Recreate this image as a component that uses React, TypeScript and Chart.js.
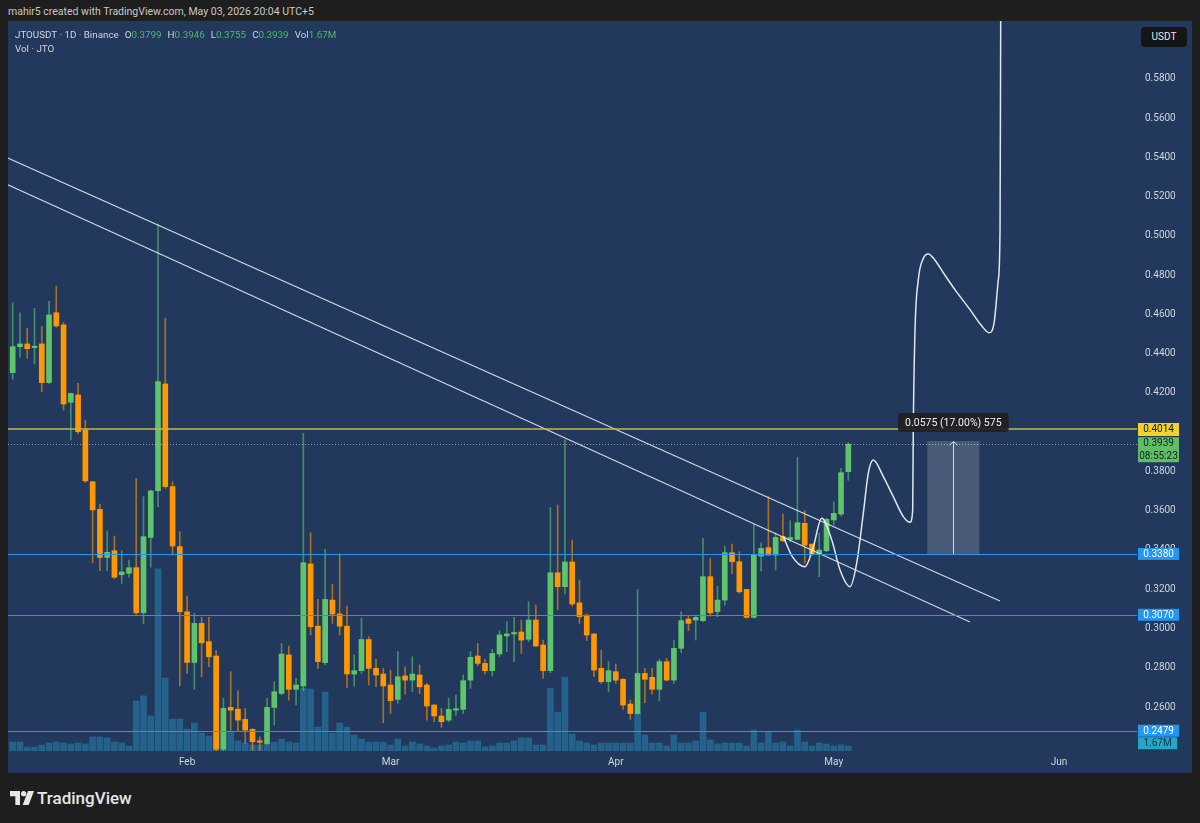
import React, { useEffect, useRef } from "react";
import { Chart, registerables } from "chart.js";

Chart.register(...registerables);

const FONT = "Roboto, 'Liberation Sans', Arial, sans-serif";
const PANEL = "#22385c";
const UP = "#5fc46b";
const DOWN = "#ff9800";
const UP_WICK = "rgba(95,196,107,0.6)";
const DOWN_WICK = "rgba(255,152,0,0.6)";

// ---------------- data ----------------
const symbolTitle = "JTOUSDT · 1D · Binance";
const firstCandleDate = "2026-01-08";

const opens = [
  0.4304, 0.4436, 0.4450, 0.4431, 0.4450, 0.4253, 0.4609, 0.4547, 0.4153, 0.4190,
  0.4011, 0.3748, 0.3607, 0.3362, 0.3396, 0.3274, 0.3281, 0.3310, 0.3080, 0.3464,
  0.3702, 0.4246, 0.3723, 0.3417, 0.3085, 0.2827, 0.3026, 0.2933, 0.2860, 0.2385,
  0.2598, 0.2589, 0.2537, 0.2486, 0.2426, 0.2414, 0.2598, 0.2669, 0.2865, 0.2690,
  0.2707, 0.3329, 0.3012, 0.2826, 0.3145, 0.3074, 0.3012, 0.2768, 0.2785, 0.2944,
  0.2797, 0.2768, 0.2712, 0.2639, 0.2758, 0.2737, 0.2763, 0.2712, 0.2610, 0.2554,
  0.2533, 0.2584, 0.2588, 0.2737, 0.2860, 0.2822, 0.2785, 0.2870, 0.2962, 0.2972,
  0.2982, 0.2945, 0.3043, 0.2916, 0.2785, 0.3284, 0.3213, 0.3339, 0.3131, 0.3068,
  0.2972, 0.2797, 0.2729, 0.2780, 0.2741, 0.2615, 0.2567, 0.2771, 0.2751, 0.2690,
  0.2831, 0.2737, 0.2899, 0.3048, 0.3043, 0.3040, 0.3264, 0.3086, 0.3145, 0.3386,
  0.3340, 0.3199, 0.3057, 0.3369, 0.3412, 0.3374, 0.3468, 0.3454, 0.3454, 0.3536,
  0.3430, 0.3379, 0.3396, 0.3553, 0.3583, 0.3799,
];
const highs = [
  0.4660, 0.4609, 0.4530, 0.4632, 0.4538, 0.4667, 0.4745, 0.4559, 0.4200, 0.4249,
  0.4062, 0.3750, 0.3634, 0.3498, 0.3471, 0.3396, 0.3349, 0.3765, 0.3672, 0.3706,
  0.5061, 0.4581, 0.3748, 0.3493, 0.3165, 0.3077, 0.3057, 0.3057, 0.2887, 0.2644,
  0.2780, 0.2683, 0.2593, 0.2490, 0.2448, 0.2644, 0.2729, 0.2924, 0.2911, 0.2746,
  0.3994, 0.3488, 0.3148, 0.3403, 0.3226, 0.3380, 0.3114, 0.2865, 0.3052, 0.2958,
  0.2843, 0.2797, 0.2788, 0.2882, 0.2805, 0.2856, 0.2814, 0.2720, 0.2612, 0.2593,
  0.2644, 0.2661, 0.2763, 0.2882, 0.2924, 0.2843, 0.2894, 0.2989, 0.3035, 0.3057,
  0.3043, 0.3136, 0.3119, 0.2941, 0.3617, 0.3629, 0.3961, 0.3451, 0.3247, 0.3074,
  0.2975, 0.2890, 0.2831, 0.2819, 0.2745, 0.2635, 0.3199, 0.2797, 0.2797, 0.2843,
  0.2848, 0.2941, 0.3086, 0.3063, 0.3069, 0.3459, 0.3357, 0.3216, 0.3420, 0.3430,
  0.3391, 0.3199, 0.3532, 0.3437, 0.3672, 0.3488, 0.3583, 0.3549, 0.3872, 0.3600,
  0.3430, 0.3485, 0.3561, 0.3646, 0.3816, 0.3946,
];
const lows = [
  0.4270, 0.4382, 0.4377, 0.4348, 0.4207, 0.4249, 0.4535, 0.4113, 0.3961, 0.3991,
  0.3743, 0.3335, 0.3295, 0.3295, 0.3255, 0.3230, 0.3261, 0.3072, 0.3023, 0.3312,
  0.3621, 0.3714, 0.3374, 0.2707, 0.2771, 0.2690, 0.2754, 0.2805, 0.2360, 0.2365,
  0.2482, 0.2474, 0.2414, 0.2380, 0.2380, 0.2409, 0.2508, 0.2661, 0.2635, 0.2610,
  0.2683, 0.2967, 0.2797, 0.2814, 0.3026, 0.2967, 0.2700, 0.2707, 0.2771, 0.2712,
  0.2703, 0.2520, 0.2567, 0.2618, 0.2666, 0.2678, 0.2669, 0.2533, 0.2525, 0.2496,
  0.2525, 0.2559, 0.2567, 0.2695, 0.2809, 0.2768, 0.2758, 0.2856, 0.2882, 0.2831,
  0.2873, 0.2933, 0.2907, 0.2746, 0.2775, 0.3097, 0.3176, 0.3114, 0.3026, 0.2938,
  0.2754, 0.2720, 0.2678, 0.2720, 0.2588, 0.2537, 0.2564, 0.2622, 0.2666, 0.2632,
  0.2734, 0.2720, 0.2877, 0.2989, 0.2941, 0.3035, 0.3063, 0.3060, 0.3119, 0.3281,
  0.3179, 0.3052, 0.3052, 0.3294, 0.3374, 0.3298, 0.3442, 0.3442, 0.3451, 0.3332,
  0.3374, 0.3264, 0.3391, 0.3527, 0.3573, 0.3755,
];
const closes = [
  0.4436, 0.4450, 0.4426, 0.4438, 0.4253, 0.4598, 0.4542, 0.4144, 0.4198, 0.4003,
  0.3752, 0.3604, 0.3362, 0.3388, 0.3261, 0.3288, 0.3310, 0.3080, 0.3468, 0.3701,
  0.4258, 0.3723, 0.3420, 0.3085, 0.2827, 0.3026, 0.2927, 0.2856, 0.2385, 0.2593,
  0.2584, 0.2533, 0.2482, 0.2423, 0.2420, 0.2598, 0.2678, 0.2870, 0.2690, 0.2712,
  0.3335, 0.3009, 0.2831, 0.3148, 0.3074, 0.3012, 0.2768, 0.2785, 0.2944, 0.2797,
  0.2763, 0.2707, 0.2632, 0.2754, 0.2737, 0.2768, 0.2703, 0.2605, 0.2554, 0.2525,
  0.2588, 0.2591, 0.2734, 0.2853, 0.2822, 0.2785, 0.2873, 0.2967, 0.2972, 0.2979,
  0.2941, 0.3043, 0.2911, 0.2785, 0.3284, 0.3213, 0.3339, 0.3125, 0.3060, 0.2967,
  0.2788, 0.2729, 0.2785, 0.2737, 0.2610, 0.2567, 0.2771, 0.2741, 0.2690, 0.2831,
  0.2737, 0.2899, 0.3040, 0.3026, 0.3057, 0.3264, 0.3080, 0.3145, 0.3386, 0.3340,
  0.3187, 0.3057, 0.3378, 0.3408, 0.3374, 0.3464, 0.3447, 0.3464, 0.3539, 0.3425,
  0.3379, 0.3400, 0.3556, 0.3587, 0.3794, 0.3939,
];
// volume in millions of JTO
const volumesM = [
  3.0, 3.0, 1.34, 1.34, 2.0, 2.67, 3.0, 2.67, 2.34, 2.67,
  2.34, 4.68, 4.68, 4.34, 3.0, 2.67, 1.67, 16.7, 18.4, 11.7,
  60.8, 24.4, 10.7, 10.7, 7.35, 9.35, 6.0, 5.0, 6.68, 6.68,
  6.68, 3.34, 2.67, 2.0, 2.0, 2.67, 3.0, 4.0, 3.0, 2.67,
  21.0, 20.7, 8.0, 19.7, 6.0, 9.35, 8.0, 5.34, 4.0, 3.0,
  3.0, 3.0, 2.0, 4.0, 1.67, 3.0, 2.34, 1.67, 1.0, 1.67,
  2.0, 3.0, 2.67, 3.34, 3.34, 1.34, 1.67, 2.67, 2.67, 3.34,
  4.34, 4.34, 2.0, 2.0, 21.0, 13.0, 24.7, 5.68, 3.34, 2.67,
  2.0, 2.67, 2.67, 2.67, 2.67, 2.67, 12.7, 5.34, 2.67, 2.67,
  1.67, 5.34, 2.67, 2.67, 3.34, 13.0, 3.67, 2.34, 2.67, 2.67,
  2.67, 1.67, 7.0, 2.67, 6.35, 2.67, 3.0, 1.67, 7.0, 3.0,
  1.67, 2.67, 2.34, 1.67, 2.0, 1.67,
];

const monthTickIdx = [24, 52, 83, 113, 144];
const monthTickLabels = ["Feb", "Mar", "Apr", "May", "Jun"];
const priceTickValues = [
  0.24, 0.26, 0.28, 0.3, 0.32, 0.34, 0.36, 0.38, 0.4, 0.42, 0.44, 0.46, 0.48, 0.5,
  0.52, 0.54, 0.56, 0.58, 0.6,
];

const resistancePrice = 0.4014;
const supportPrices = [0.338, 0.307, 0.2479];
const countdownText = "08:55:23";

// drawn trendlines (candle index, price)
const upperTrendX = [-3, 135.88];
const upperTrendY = [0.5436, 0.314];
const lowerTrendX = [-3, 131.75];
const lowerTrendY = [0.53, 0.3033];

// hand-drawn projection path (candle index, price)
const pathX = [
  106.06, 107.25, 109.04, 110.14, 111.34, 112.72, 113.86, 115.24, 116.16, 117.07,
  117.75, 118.44, 119.82, 121.19, 122.57, 123.49, 123.86, 123.94, 124.18, 124.63,
  125.32, 126.01, 126.9, 128.3, 129.9, 131.75, 133.3, 134.36, 135.05, 135.64,
  135.88, 135.97, 136.0,
];
const pathY = [
  0.3468, 0.3369, 0.3315, 0.341, 0.3562, 0.3451, 0.3298, 0.3213, 0.3334, 0.3589,
  0.3792, 0.3859, 0.3774, 0.3672, 0.357, 0.3541, 0.3604, 0.4011, 0.4521, 0.4776,
  0.4886, 0.4908, 0.4878, 0.48, 0.4715, 0.4625, 0.4545, 0.4507, 0.4555, 0.4776,
  0.5031, 0.6096, 0.63,
];

// price-range measurement
const measureX = [125.87, 133.03];
const measureBase = 0.338;
const measureChange = 0.0575;
const measurePct = 17.0;
const measureTicks = 575;

// visible window
const X_MIN = -0.647;
const X_MAX = 154.73;
const Y_MIN = 0.23758;
const Y_MAX = 0.60955;
const VOL_MAX = 243.8;

function drawTag(
  ctx: CanvasRenderingContext2D,
  x: number,
  top: number,
  w: number,
  h: number,
  bg: string,
  fg: string,
  lines: string[]
) {
  ctx.fillStyle = bg;
  ctx.fillRect(x, top, w, h);
  ctx.fillStyle = fg;
  ctx.font = `10px ${FONT}`;
  ctx.textAlign = "center";
  ctx.textBaseline = "middle";
  const lh = h / lines.length;
  lines.forEach((t, k) => ctx.fillText(t, x + w / 2, top + lh * k + lh / 2 + 0.5));
}

const overlayPlugin = {
  id: "overlay",
  beforeDraw(chart: any) {
    const { ctx, width, height } = chart;
    ctx.save();
    ctx.fillStyle = PANEL;
    ctx.fillRect(0, 0, width, height);
    ctx.restore();
  },
  afterDatasetsDraw(chart: any) {
    const { ctx, chartArea: a, scales } = chart;
    const xs = scales.x;
    const ys = scales.y;
    ctx.save();
    ctx.beginPath();
    ctx.rect(a.left, a.top, a.right - a.left, a.bottom - a.top);
    ctx.clip();

    // support lines
    ctx.strokeStyle = "#2196f3";
    ctx.lineWidth = 1;
    supportPrices.forEach((p) => {
      const y = Math.round(ys.getPixelForValue(p)) + 0.5;
      ctx.beginPath();
      ctx.moveTo(a.left, y);
      ctx.lineTo(a.right, y);
      ctx.stroke();
    });

    // resistance line
    const ry = Math.round(ys.getPixelForValue(resistancePrice));
    ctx.strokeStyle = "#c9b640";
    ctx.lineWidth = 1.5;
    ctx.beginPath();
    ctx.moveTo(a.left, ry);
    ctx.lineTo(a.right, ry);
    ctx.stroke();

    // last price dotted line
    const lastClose = closes[closes.length - 1];
    const ly = Math.round(ys.getPixelForValue(lastClose)) + 0.5;
    ctx.strokeStyle = "rgba(185,200,200,0.7)";
    ctx.lineWidth = 1;
    ctx.setLineDash([1, 2]);
    ctx.beginPath();
    ctx.moveTo(a.left, ly);
    ctx.lineTo(a.right, ly);
    ctx.stroke();
    ctx.setLineDash([]);

    // measurement box
    const x1 = xs.getPixelForValue(measureX[0]);
    const x2 = xs.getPixelForValue(measureX[1]);
    const yb = ys.getPixelForValue(measureBase);
    const yt = ys.getPixelForValue(measureBase + measureChange);
    ctx.fillStyle = "rgba(255,255,255,0.18)";
    ctx.fillRect(x1, yt, x2 - x1, yb - yt);
    const xc = Math.round((x1 + x2) / 2) + 0.5;
    ctx.strokeStyle = "rgba(225,230,240,0.9)";
    ctx.lineWidth = 1;
    ctx.beginPath();
    ctx.moveTo(xc, yb);
    ctx.lineTo(xc, yt + 1);
    ctx.moveTo(xc - 4, yt + 4);
    ctx.lineTo(xc, yt + 0.5);
    ctx.lineTo(xc + 4, yt + 4);
    ctx.stroke();

    // measurement label
    const label = `${measureChange.toFixed(4)} (${measurePct.toFixed(2)}%) ${measureTicks}`;
    ctx.font = `10.5px ${FONT}`;
    const tw = ctx.measureText(label).width;
    const bw = tw + 14;
    const bh = 19;
    const bx = (x1 + x2) / 2 - bw / 2;
    const by = yt - 9 - bh;
    ctx.fillStyle = "rgba(32,32,34,0.95)";
    ctx.beginPath();
    (ctx as any).roundRect ? (ctx as any).roundRect(bx, by, bw, bh, 3) : ctx.rect(bx, by, bw, bh);
    ctx.fill();
    ctx.fillStyle = "#f0f0f0";
    ctx.textAlign = "center";
    ctx.textBaseline = "middle";
    ctx.fillText(label, bx + bw / 2, by + bh / 2 + 0.5);
    ctx.restore();
  },
  afterDraw(chart: any) {
    const { ctx, chartArea: a, scales } = chart;
    const ys = scales.y;
    const tx = a.right + 1;
    const tw = 41;
    ctx.save();
    // resistance tag
    const ry = ys.getPixelForValue(resistancePrice);
    drawTag(ctx, tx, ry - 6.5, tw, 13, "#f2d32b", "#151515", [resistancePrice.toFixed(4)]);
    // last price tag
    const lastClose = closes[closes.length - 1];
    const ly = ys.getPixelForValue(lastClose);
    drawTag(ctx, tx, ly - 7, tw, 25, "#5fbf68", "#10240f", [lastClose.toFixed(4), countdownText]);
    // support tags
    let lastBottom = 0;
    supportPrices.forEach((p) => {
      const y = ys.getPixelForValue(p);
      drawTag(ctx, tx, y - 6, tw, 12, "#2196f3", "#ffffff", [p.toFixed(4)]);
      lastBottom = y + 6;
    });
    // volume tag
    const vol = volumesM[volumesM.length - 1];
    drawTag(ctx, tx, lastBottom + 0.5, 39, 12, "#23a7c6", "#173152", [`${vol.toFixed(2)}M`]);
    ctx.restore();
  },
};

export default function App() {
  const canvasRef = useRef<HTMLCanvasElement | null>(null);

  useEffect(() => {
    const canvas = canvasRef.current;
    if (!canvas) return;

    const bodyData = opens.map((o, i) => ({ x: i, y: [o, closes[i]] }));
    const wickData = lows.map((l, i) => ({ x: i, y: [l, highs[i]] }));
    const isUp = opens.map((o, i) => closes[i] >= o);
    const volData = volumesM.map((v, i) => ({ x: i, y: v }));

    const chart = new Chart(canvas, {
      type: "bar",
      data: {
        datasets: [
          {
            type: "bar",
            label: "Volume",
            data: volData as any,
            yAxisID: "yv",
            backgroundColor: "rgba(38,140,185,0.5)",
            barThickness: 6,
            grouped: false,
            order: 10,
          } as any,
          {
            type: "bar",
            label: "Wicks",
            data: wickData as any,
            yAxisID: "y",
            backgroundColor: isUp.map((u) => (u ? UP_WICK : DOWN_WICK)),
            barThickness: 1,
            grouped: false,
            borderSkipped: false,
            order: 6,
          } as any,
          {
            type: "bar",
            label: "Bodies",
            data: bodyData as any,
            yAxisID: "y",
            backgroundColor: isUp.map((u) => (u ? UP : DOWN)),
            barThickness: 5,
            minBarLength: 1.5,
            grouped: false,
            borderSkipped: false,
            order: 5,
          } as any,
          {
            type: "line",
            label: "Upper trend",
            data: upperTrendX.map((x, k) => ({ x, y: upperTrendY[k] })) as any,
            yAxisID: "y",
            borderColor: "rgba(228,232,240,0.9)",
            borderWidth: 1.2,
            pointRadius: 0,
            order: 2,
          } as any,
          {
            type: "line",
            label: "Lower trend",
            data: lowerTrendX.map((x, k) => ({ x, y: lowerTrendY[k] })) as any,
            yAxisID: "y",
            borderColor: "rgba(228,232,240,0.9)",
            borderWidth: 1.2,
            pointRadius: 0,
            order: 2,
          } as any,
          {
            type: "line",
            label: "Projection",
            data: pathX.map((x, k) => ({ x, y: pathY[k] })) as any,
            yAxisID: "y",
            borderColor: "rgba(236,240,246,0.95)",
            borderWidth: 1.5,
            pointRadius: 0,
            cubicInterpolationMode: "monotone",
            order: 1,
          } as any,
        ],
      },
      options: {
        responsive: false,
        maintainAspectRatio: false,
        animation: false,
        events: [],
        layout: { padding: 0 },
        plugins: {
          legend: { display: false },
          tooltip: { enabled: false },
        },
        scales: {
          x: {
            type: "linear",
            min: X_MIN,
            max: X_MAX,
            offset: false,
            grid: { display: false, drawTicks: false },
            border: { display: false },
            afterBuildTicks: (scale: any) => {
              scale.ticks = monthTickIdx.map((v) => ({ value: v }));
            },
            afterFit: (scale: any) => {
              scale.height = 22;
              scale.paddingLeft = 0;
              scale.paddingRight = 0;
            },
            ticks: {
              autoSkip: false,
              maxRotation: 0,
              padding: 5,
              color: "#d1d4dc",
              font: { family: FONT, size: 10 },
              callback: (value: any) => {
                const k = monthTickIdx.indexOf(Number(value));
                return k >= 0 ? monthTickLabels[k] : "";
              },
            },
          },
          y: {
            type: "linear",
            position: "right",
            min: Y_MIN,
            max: Y_MAX,
            beginAtZero: false,
            grid: { display: false, drawTicks: false },
            border: { display: false },
            afterBuildTicks: (scale: any) => {
              scale.ticks = priceTickValues.map((v) => ({ value: v }));
            },
            afterFit: (scale: any) => {
              scale.width = 55;
              scale.paddingTop = 0;
              scale.paddingBottom = 0;
            },
            ticks: {
              padding: 8,
              color: "#d1d4dc",
              font: { family: FONT, size: 10 },
              callback: (value: any) => Number(value).toFixed(4),
            },
          },
          yv: {
            type: "linear",
            display: false,
            min: 0,
            max: VOL_MAX,
          },
        },
      } as any,
      plugins: [overlayPlugin as any],
    });

    return () => chart.destroy();
  }, []);

  const last = opens.length - 1;
  const legendItems = [
    ["O", opens[last].toFixed(4)],
    ["H", highs[last].toFixed(4)],
    ["L", lows[last].toFixed(4)],
    ["C", closes[last].toFixed(4)],
  ];

  return (
    <div
      style={{
        position: "fixed",
        left: 0,
        top: 0,
        width: 1200,
        height: 823,
        background: "#1e1e1e",
        overflow: "hidden",
        fontFamily: FONT,
      }}
      data-first-date={firstCandleDate}
    >
      <div
        style={{
          position: "absolute",
          left: 8,
          top: 4,
          fontSize: 10.5,
          lineHeight: "16px",
          color: "#c9c9c9",
          whiteSpace: "nowrap",
        }}
      >
        mahir5 created with TradingView.com, May 03, 2026 20:04 UTC+5
      </div>

      <div style={{ position: "absolute", left: 8, top: 21, width: 1184, height: 752 }}>
        <canvas
          ref={canvasRef}
          width={1184}
          height={752}
          style={{ display: "block", width: 1184, height: 752 }}
        />
      </div>

      <div
        style={{
          position: "absolute",
          left: 15,
          top: 27,
          fontSize: 9.8,
          lineHeight: "15px",
          color: "#d1d4dc",
          whiteSpace: "nowrap",
        }}
      >
        <span>{symbolTitle}</span>
        {legendItems.map(([k, v]) => (
          <span key={k} style={{ marginLeft: 6 }}>
            {k}
            <span style={{ color: "#4fb86b" }}>{v}</span>
          </span>
        ))}
        <span style={{ marginLeft: 6 }}>
          Vol<span style={{ color: "#4fb86b" }}>{volumesM[last].toFixed(2)}M</span>
        </span>
      </div>
      <div
        style={{
          position: "absolute",
          left: 15,
          top: 41,
          fontSize: 9.8,
          lineHeight: "15px",
          color: "#d1d4dc",
          whiteSpace: "nowrap",
        }}
      >
        Vol · JTO
      </div>

      <div
        style={{
          position: "absolute",
          left: 1141,
          top: 27,
          width: 46,
          height: 20,
          borderRadius: 4,
          background: "#151515",
          color: "#e6e6e6",
          fontSize: 10,
          lineHeight: "20px",
          textAlign: "center",
        }}
      >
        USDT
      </div>

      <svg
        width={24}
        height={14}
        viewBox="0 0 36 21"
        style={{ position: "absolute", left: 10, top: 791 }}
      >
        <path d="M0 0h15v21H8V8H0z" fill="#e6e6e6" />
        <circle cx={20.5} cy={4} r={4} fill="#e6e6e6" />
        <path d="M27 0h9L28 21h-9z" fill="#e6e6e6" />
      </svg>
      <div
        style={{
          position: "absolute",
          left: 37,
          top: 787,
          fontSize: 17,
          fontWeight: 500,
          lineHeight: "22px",
          color: "#e6e6e6",
          whiteSpace: "nowrap",
        }}
      >
        TradingView
      </div>
    </div>
  );
}
